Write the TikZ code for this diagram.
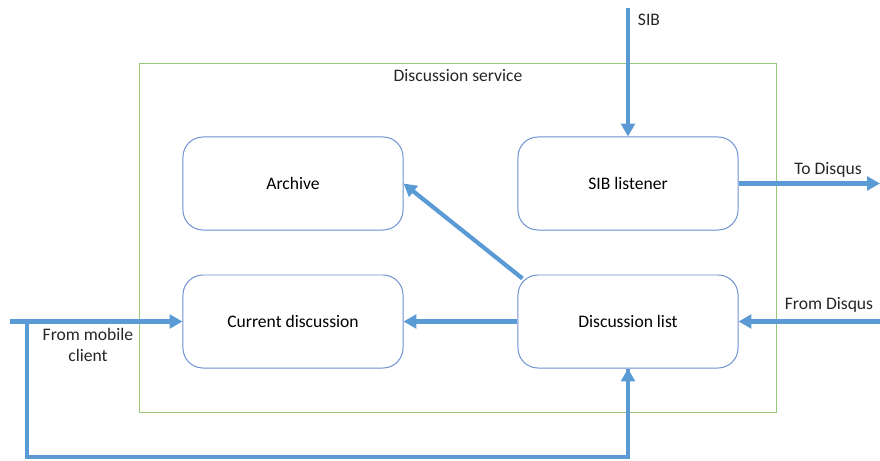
\documentclass[tikz,border=0pt]{standalone}
\usepackage{fontspec}
\setmainfont{Carlito}
\usepackage{tikz}
\usetikzlibrary{arrows.meta, calc, positioning}
\definecolor{flowblue}{RGB}{91,155,213}
\definecolor{boxblue}{RGB}{110,145,210}
\definecolor{svcgreen}{RGB}{150,200,120}
\tikzset{
  flow/.style={line width=3pt, flowblue, -{Triangle[length=3.2mm,width=3.4mm]}},
  flowline/.style={line width=3pt, flowblue},
  block/.style={draw=boxblue, line width=0.7pt, rounded corners=0.5cm, fill=white,
                minimum width=5.5cm, minimum height=2.325cm, font=\fontsize{12.5}{15}\selectfont},
  lbl/.style={font=\fontsize{12.5}{15}\selectfont, text=black!85}
}

\begin{document}
\begin{tikzpicture}[x=0.025cm, y=-0.025cm]
\useasboundingbox (0,0) rectangle (880,460);

% Service frame
\node[draw=svcgreen, line width=0.6pt, minimum width=15.9cm, minimum height=8.725cm] (service) at (458,237.5) {};
\node[lbl] (svclabel) at (458,76) {Discussion service};

% Components
\node[block] (archive) at (293,183.5) {Archive};
\node[block] (sib) at (628,183.5) {SIB listener};
\node[block] (current) at (293,321.5) {Current discussion};
\node[block] (dlist) at (628,321.5) {Discussion list};

% Free ends
\coordinate (sibin) at (628,8);
\coordinate (todisqus) at (880,183.5);
\coordinate (fromdisqus) at (880,321.5);
\coordinate (mobile) at (10,321.5);
\coordinate (split) at (27,321.5);
\coordinate (corner) at (27,457);

% Flows
\draw[flow] (sibin) -- (sib.north);
\node[lbl, anchor=west] (sibtext) at (633,20) {SIB};
\draw[flow] (sib.east) -- (todisqus);
\node[lbl] (todtext) at (828,170) {To Disqus};
\draw[flow] (fromdisqus) -- (dlist.east);
\node[lbl] (fromdtext) at (829,305) {From Disqus};
\draw[flow] (dlist.west) -- (current.west -| current.east);
\draw[flow] ($(dlist.north west)+(5,4)$) -- (archive.east);
\draw[flow] (mobile) -- (current.west);
\node[lbl, align=center, inner sep=1pt] (mobtext) at (88,345) {From mobile\\client};
\draw[flowline, line join=miter] (split) -- (corner) -| (dlist.south);
\draw[flow] ($(dlist.south)+(0,10)$) -- (dlist.south);

\end{tikzpicture}
\end{document}
